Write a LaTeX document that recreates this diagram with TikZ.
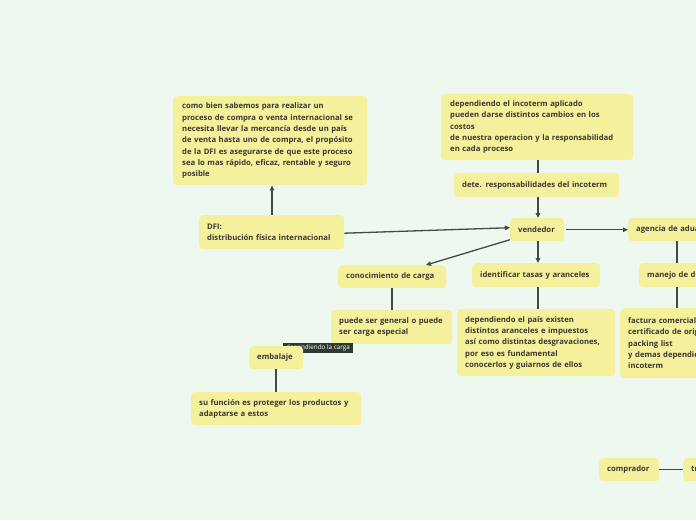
\documentclass[tikz,border=0pt]{standalone}
\usepackage{fontspec}
\setmainfont{Open Sans}
\usetikzlibrary{arrows.meta}
\definecolor{bg}{HTML}{EFF8EE}
\definecolor{boxy}{HTML}{F4F09B}
\definecolor{txt}{HTML}{3A3A30}
\definecolor{ln}{HTML}{3F4B44}
\definecolor{lbldark}{HTML}{2F3A35}
\tikzset{
  box/.style={anchor=north west, fill=boxy, rounded corners=4pt, inner xsep=8pt, inner ysep=4pt,
    font=\fontsize{7.7}{11.3}\selectfont\bfseries, text=txt, align=left},
  con/.style={draw=ln, line width=1.3pt},
  arr/.style={con, -{Triangle[length=5pt,width=4.5pt]}},
  lbl/.style={fill=lbldark, text=white, font=\fontsize{6.3}{7}\selectfont, inner xsep=3pt, inner ysep=1.5pt},
}
\begin{document}
\begin{tikzpicture}[x=1pt,y=-1pt]
\useasboundingbox (0,0) rectangle (696,520);
\clip (0,0) rectangle (696,520);
\fill[bg] (0,0) rectangle (696,520);

\node[box, minimum width=194pt, minimum height=89pt, text width=176pt, inner xsep=9pt] (b1) at (173,96)
 {como bien sabemos para realizar un\\proceso de compra o venta internacional se\\necesita llevar la mercancía desde un país\\de venta hasta uno de compra, el propósito\\de la DFI es asegurarse de que este proceso\\sea lo mas rápido, eficaz, rentable y seguro\\posible};
\node[box, minimum width=192pt, minimum height=66pt, text width=174pt, inner xsep=9pt] (b2) at (441,94)
 {dependiendo el incoterm aplicado\\pueden darse distintos cambios en los\\costos\\de nuestra operacion y la responsabilidad\\en cada proceso};
\node[box, minimum width=165pt, minimum height=24pt, text width=149pt] (dete) at (454,173)
 {dete. responsabilidades del incoterm};
\node[box, minimum width=145pt, minimum height=34pt, text width=129pt] (dfi) at (199,215)
 {DFI:\\distribución física internacional};
\node[box, minimum width=54pt, minimum height=23pt, text width=38pt] (vend) at (510,218)
 {vendedor};
\node[box, minimum width=120pt, minimum height=23pt, text width=104pt] (agen) at (628,218)
 {agencia de aduanas};
\node[box, minimum width=108pt, minimum height=23pt, text width=92pt] (cono) at (338,265)
 {conocimiento de carga};
\node[box, minimum width=128pt, minimum height=24pt, text width=112pt] (iden) at (472,263)
 {identificar tasas y aranceles};
\node[box, minimum width=120pt, minimum height=24pt, text width=104pt] (mane) at (639,263)
 {manejo de documentos};
\node[box, minimum width=121pt, minimum height=34pt, text width=105pt] (pued) at (331,310)
 {puede ser general o puede\\ser carga especial};
\node[box, minimum width=158pt, minimum height=67pt, text width=142pt] (depe) at (457,309)
 {dependiendo el país existen\\distintos aranceles e impuestos\\así como distintas desgravaciones,\\por eso es fundamental\\conocerlos y guiarnos de ellos};
\node[box, minimum width=130pt, minimum height=70pt, text width=114pt] (fact) at (620,308)
 {factura comercial\\certificado de origen\\packing list\\y demas dependiendo del\\incoterm};
\node[lbl] (lab) at (318,348) {dependiendo la carga};
\node[box, minimum width=54pt, minimum height=23pt, text width=38pt] (emba) at (249,346)
 {embalaje};
\node[box, minimum width=170pt, minimum height=33pt, text width=154pt] (func) at (191,392)
 {su función es proteger los productos y\\adaptarse a estos};
\node[box, minimum width=60pt, minimum height=23pt, text width=44pt] (comp) at (599,458)
 {comprador};
\node[box, minimum width=80pt, minimum height=23pt, text width=64pt] (tran) at (683,458)
 {transporte};

\draw[arr] (dfi.north -| 272,0) -- (b1.south -| 272,0);
\draw[arr] ([yshift=-1pt]dfi.east) -- ([yshift=2pt]vend.west);
\draw[con] (b2.south -| 538,0) -- (dete.north -| 538,0);
\draw[arr] (dete.south -| 538,0) -- (vend.north -| 538,0);
\draw[arr] ([yshift=-10pt]vend.west) -- (cono.north -| 426,0);
\draw[arr] (vend.south -| 538,0) -- (iden.north -| 538,0);
\draw[arr] ([xshift=2pt]vend.east) -- (agen.west);
\draw[con] (agen.south -| 677,0) -- (mane.north -| 677,0);
\draw[con] (mane.south -| 677,0) -- (fact.north -| 677,0);
\draw[con] (cono.south -| 392,0) -- (pued.north -| 392,0);
\draw[con] (iden.south -| 538,0) -- (depe.north -| 538,0);
\draw[con] (emba.south -| 276,0) -- (func.north -| 276,0);
\draw[con] (comp.east) -- (tran.west);
\end{tikzpicture}
\end{document}
